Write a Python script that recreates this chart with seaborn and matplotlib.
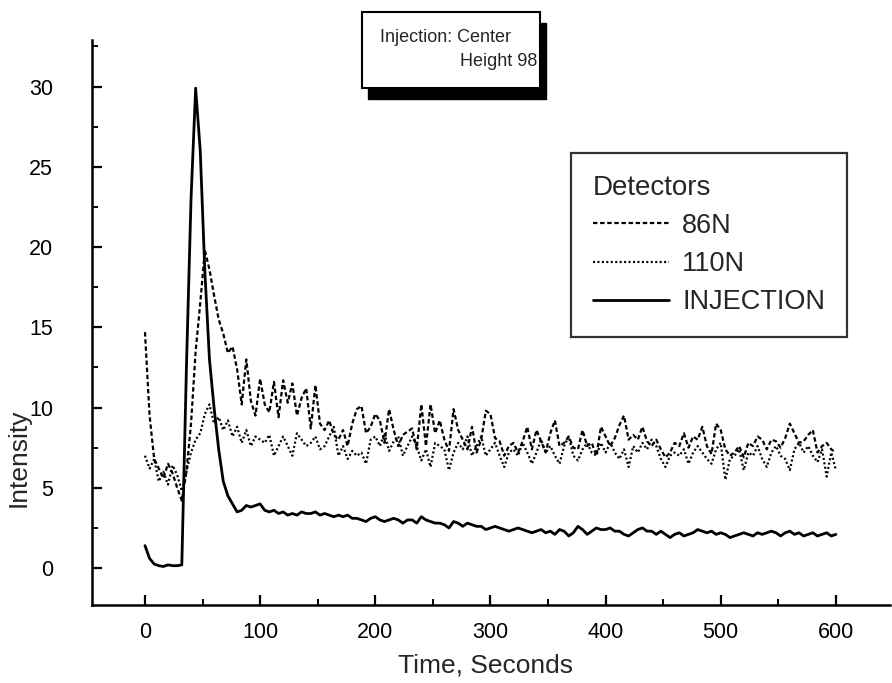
import numpy as np
import pandas as pd
import matplotlib
matplotlib.use("Agg")
import matplotlib.pyplot as plt
from matplotlib.patches import Rectangle
from matplotlib.ticker import MultipleLocator
import seaborn as sns

# Sampling times (s), one reading every 4 s
time_s = np.arange(0, 601, 4)

# Detector 86N
det_86n = [
    14.7, 9.5, 6.8, 6.2, 5.6, 6.5, 5.9, 5.0, 4.2, 6.0,
    9.0, 13.5, 16.5, 19.8, 18.6, 17.0, 15.5, 14.6, 13.4, 13.8,
    12.4, 10.2, 13.0, 10.4, 9.5, 11.8, 10.2, 9.7, 11.6, 9.4,
    11.7, 10.3, 11.5, 9.5, 10.6, 11.2, 8.7, 11.4, 9.0, 8.6,
    9.2, 8.3, 8.0, 8.6, 7.6, 9.0, 9.9, 10.1, 8.4, 8.8,
    9.6, 9.2, 7.8, 9.9, 8.6, 7.6, 8.3, 8.5, 8.7, 7.4,
    10.2, 7.6, 10.2, 8.4, 9.2, 8.0, 7.3, 9.9, 8.6, 8.0,
    7.4, 8.8, 7.2, 8.0, 9.8, 9.6, 8.1, 7.9, 7.0, 7.6,
    7.8, 7.2, 7.9, 8.8, 7.4, 8.6, 7.9, 7.2, 8.4, 9.2,
    7.6, 7.8, 8.2, 7.5, 7.4, 8.6, 7.6, 7.8, 7.0, 8.8,
    8.2, 7.6, 8.1, 8.9, 9.5, 8.0, 8.3, 8.0, 8.8, 7.9,
    7.6, 8.0, 7.4, 6.9, 7.2, 7.8, 7.6, 8.4, 7.5, 8.2,
    8.0, 8.8, 7.6, 7.1, 9.0, 8.6, 7.4, 7.0, 7.2, 7.6,
    6.9, 7.8, 7.6, 8.2, 8.0, 7.4, 8.0, 7.9, 7.5, 8.1,
    9.0, 8.4, 7.8, 7.9, 8.3, 8.6, 7.2, 7.6, 7.8, 7.4,
    7.2,
]

# Detector 110N
det_110n = [
    7.0, 6.2, 6.8, 5.4, 6.0, 5.2, 6.4, 5.8, 4.8, 6.0,
    7.2, 8.0, 8.4, 9.6, 10.2, 9.0, 9.4, 8.6, 9.2, 8.2,
    8.8, 7.8, 8.6, 7.6, 8.2, 8.0, 7.8, 8.3, 7.0, 7.6,
    8.2, 7.6, 7.0, 8.4, 8.0, 7.6, 7.8, 8.2, 7.4, 7.6,
    8.2, 8.8, 7.0, 7.6, 6.8, 7.3, 7.0, 7.2, 6.5, 8.0,
    8.2, 7.6, 8.4, 7.3, 7.9, 8.2, 7.0, 7.6, 8.2, 7.6,
    6.7, 7.4, 6.3, 7.8, 7.6, 7.4, 6.1, 7.2, 7.8, 7.4,
    8.2, 7.0, 7.6, 8.2, 7.0, 7.4, 7.8, 7.0, 6.3, 7.2,
    7.4, 7.0, 7.8, 7.2, 6.5, 7.2, 8.0, 7.2, 7.6, 7.0,
    6.5, 7.6, 8.2, 7.0, 6.7, 7.4, 7.8, 7.2, 7.0, 7.8,
    7.2, 7.8, 7.2, 6.8, 7.4, 6.3, 7.6, 7.2, 7.8, 7.4,
    8.0, 7.6, 6.8, 6.3, 7.0, 7.2, 7.0, 7.4, 6.5, 7.2,
    7.6, 7.2, 6.8, 6.5, 7.4, 7.8, 5.5, 6.8, 7.0, 7.4,
    6.1, 7.2, 7.0, 7.6, 6.8, 6.3, 7.2, 7.6, 7.0, 6.8,
    6.1, 7.4, 7.8, 7.2, 7.6, 7.0, 6.6, 7.4, 5.7, 7.2,
    6.1,
]

# Injection signal
injection = [
    1.4, 0.6, 0.25, 0.15, 0.1, 0.2, 0.15, 0.15, 0.2, 12.5,
    23.0, 29.9, 26.0, 18.5, 13.0, 10.0, 7.4, 5.4, 4.5, 4.0,
    3.5, 3.6, 3.9, 3.8, 3.9, 4.0, 3.6, 3.5, 3.6, 3.4,
    3.5, 3.3, 3.4, 3.3, 3.5, 3.4, 3.4, 3.5, 3.3, 3.4,
    3.3, 3.2, 3.3, 3.2, 3.3, 3.1, 3.1, 3.0, 2.9, 3.1,
    3.2, 3.0, 2.9, 3.0, 3.1, 3.0, 2.8, 3.0, 3.0, 2.8,
    3.2, 3.0, 2.9, 2.8, 2.8, 2.7, 2.5, 2.9, 2.8, 2.6,
    2.8, 2.7, 2.6, 2.6, 2.4, 2.5, 2.6, 2.5, 2.4, 2.3,
    2.4, 2.5, 2.4, 2.3, 2.2, 2.3, 2.4, 2.2, 2.3, 2.1,
    2.4, 2.3, 2.0, 2.2, 2.6, 2.4, 2.1, 2.3, 2.5, 2.4,
    2.4, 2.5, 2.3, 2.3, 2.1, 2.0, 2.2, 2.4, 2.5, 2.3,
    2.3, 2.1, 2.3, 2.1, 1.9, 2.1, 2.2, 2.0, 2.1, 2.2,
    2.4, 2.3, 2.2, 2.3, 2.1, 2.2, 2.1, 1.9, 2.0, 2.1,
    2.2, 2.1, 2.0, 2.2, 2.1, 2.2, 2.3, 2.2, 2.0, 2.2,
    2.3, 2.1, 2.2, 2.0, 2.1, 2.2, 2.0, 2.1, 2.2, 2.0,
    2.1,
]

x_ticks = [0, 100, 200, 300, 400, 500, 600]
y_ticks = [0, 5, 10, 15, 20, 25, 30]

df = pd.DataFrame({
    "Time": time_s,
    "86N": det_86n,
    "110N": det_110n,
    "INJECTION": injection,
})

sns.set_style("ticks")
plt.rcParams["font.family"] = ["Liberation Sans", "DejaVu Sans"]

W, H = 892, 683
fig = plt.figure(figsize=(W / 100, H / 100), dpi=100)
ax = fig.add_axes([92 / W, 1 - 605 / H, (890 - 92) / W, (605 - 40) / H])

sns.lineplot(data=df, x="Time", y="86N", ax=ax, color="black", lw=1.6,
             label="86N", dashes=False)
sns.lineplot(data=df, x="Time", y="110N", ax=ax, color="black", lw=1.6,
             label="110N", dashes=False)
sns.lineplot(data=df, x="Time", y="INJECTION", ax=ax, color="black", lw=2.0,
             label="INJECTION", dashes=False)
lines = ax.get_lines()
lines[0].set_dashes((2.0, 1.2))
lines[1].set_dashes((0.9, 1.1))

ax.set_xlim(-46, 647)
ax.set_ylim(-2.3, 32.9)
ax.set_xticks(x_ticks)
ax.set_xticklabels([str(v) for v in x_ticks])
ax.set_yticks(y_ticks)
ax.set_yticklabels([str(v) for v in y_ticks])
ax.xaxis.set_minor_locator(MultipleLocator(50))
ax.yaxis.set_minor_locator(MultipleLocator(2.5))

for side in ("top", "right"):
    ax.spines[side].set_visible(False)
for side in ("left", "bottom"):
    ax.spines[side].set_linewidth(1.8)
    ax.spines[side].set_color("black")

ax.tick_params(axis="both", which="major", direction="in", length=7, width=1.6,
               colors="black", labelsize=15.5)
ax.tick_params(axis="both", which="minor", direction="in", length=4, width=1.4,
               colors="black")
ax.tick_params(axis="y", which="both", pad=28)
ax.tick_params(axis="x", which="both", pad=12)

ax.set_xlabel("Time, Seconds", fontsize=19, va="center", ha="center")
ax.set_ylabel("Intensity", fontsize=19, va="center", ha="center")
ax.xaxis.set_label_coords((485 - 92) / (890 - 92), -(665 - 605) / (605 - 40))
ax.yaxis.set_label_coords(-(92 - 19) / (890 - 92), (605 - 458) / (605 - 40))

leg = ax.legend(title="Detectors", loc="upper left",
                bbox_to_anchor=(571 / W, 1 - 153 / H),
                bbox_transform=fig.transFigure,
                fontsize=19.5, title_fontsize=20,
                frameon=True, fancybox=False, edgecolor="black",
                handlelength=2.8, handletextpad=0.5, labelspacing=0.45,
                borderpad=0.8, borderaxespad=0)
leg.get_frame().set_linewidth(1.6)
leg._legend_box.align = "left"

# Annotation box with drop shadow
bx0, bx1, by0, by1 = 362, 540, 12, 88
fig.patches.append(Rectangle((bx0 / W + 6 / W, 1 - (by1 + 11) / H),
                             (bx1 - bx0) / W, (by1 - by0) / H,
                             transform=fig.transFigure, facecolor="black",
                             edgecolor="black", zorder=5))
fig.patches.append(Rectangle((bx0 / W, 1 - by1 / H),
                             (bx1 - bx0) / W, (by1 - by0) / H,
                             transform=fig.transFigure, facecolor="white",
                             edgecolor="black", lw=1.5, zorder=6))
fig.text(380 / W, 1 - 38 / H, "Injection: Center", fontsize=13,
         ha="left", va="center", zorder=7)
fig.text(537 / W, 1 - 62 / H, "Height 98", fontsize=13,
         ha="right", va="center", zorder=7)

fig.savefig("out.png", dpi=100, facecolor="white")
